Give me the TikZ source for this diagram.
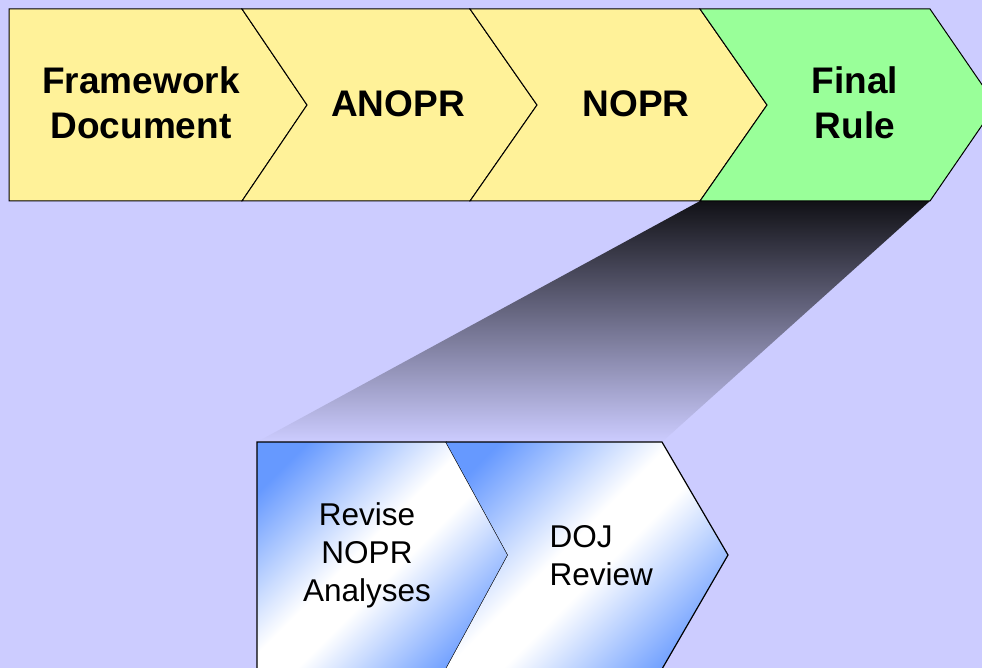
\documentclass[tikz,border=0pt]{standalone}
\usepackage{fontspec}
\setmainfont{Liberation Sans}
\usepackage{tikz}
\definecolor{rmback}{HTML}{CCCCFF}
\definecolor{rmyellow}{HTML}{FFF299}
\definecolor{rmgreen}{HTML}{99FF99}
\definecolor{rmblue}{HTML}{6699FF}
\definecolor{rmshadow}{HTML}{111116}
\pgfdeclareverticalshading{rmfade}{100bp}{color(0bp)=(rmblue); color(22bp)=(rmblue);
  color(46bp)=(white); color(54bp)=(white); color(78bp)=(rmblue); color(100bp)=(rmblue)}
\tikzset{
  topstage/.style={draw=black, line width=1pt, line join=miter},
  zoomstage/.style={shading=rmfade, shading angle=45},
  toplabel/.style={text=black, align=center, font=\fontsize{37}{45}\selectfont\bfseries},
  zoomlabel/.style={text=black, font=\fontsize{31.5}{38}\selectfont}
}

\begin{document}
\begin{tikzpicture}[x=1pt, y=-1pt]
  \path[use as bounding box, fill=rmback] (0,0) rectangle (982,668);
  \shade[top color=rmshadow, bottom color=rmback]
    (700,201) -- (930,201) -- (662,442) -- (257,442) -- cycle;
  \draw[topstage, fill=rmyellow]
    (9,9) -- (242,9) -- (307,105) -- (242,201) -- (9,201) -- cycle;
  \draw[topstage, fill=rmyellow]
    (242,9) -- (470,9) -- (537,105) -- (470,201) -- (242,201) -- (307,105) -- cycle;
  \draw[topstage, fill=rmyellow]
    (470,9) -- (700,9) -- (767,105) -- (700,201) -- (470,201) -- (537,105) -- cycle;
  \draw[topstage, fill=rmgreen]
    (700,9) -- (930,9) -- (996,105) -- (930,201) -- (700,201) -- (767,105) -- cycle;
  \node[toplabel] (framework) at (141,103) {Framework\\Document};
  \node[toplabel] (anopr) at (398,104) {ANOPR};
  \node[toplabel] (nopr) at (636,104) {NOPR};
  \node[toplabel] (final) at (855,103) {Final\\Rule};
  \path[zoomstage]
    (257,442) -- (446,442) -- (508,555) -- (446,669) -- (257,669) -- cycle;
  \draw[black, line width=1.2pt]
    (257,669) -- (257,442) -- (446,442) -- (508,555) -- (446,669);
  \path[zoomstage]
    (446,442) -- (662,442) -- (728,555) -- (662,669) -- (446,669) -- (508,555) -- cycle;
  \draw[black, line width=1.2pt]
    (446,442) -- (662,442) -- (728,555) -- (662,669);
  \node[zoomlabel, align=center] (revise) at (367,555) {Revise\\NOPR\\Analyses};
  \node[zoomlabel, align=left, anchor=west] (doj) at (546,556) {DOJ\\Review};
\end{tikzpicture}
\end{document}
